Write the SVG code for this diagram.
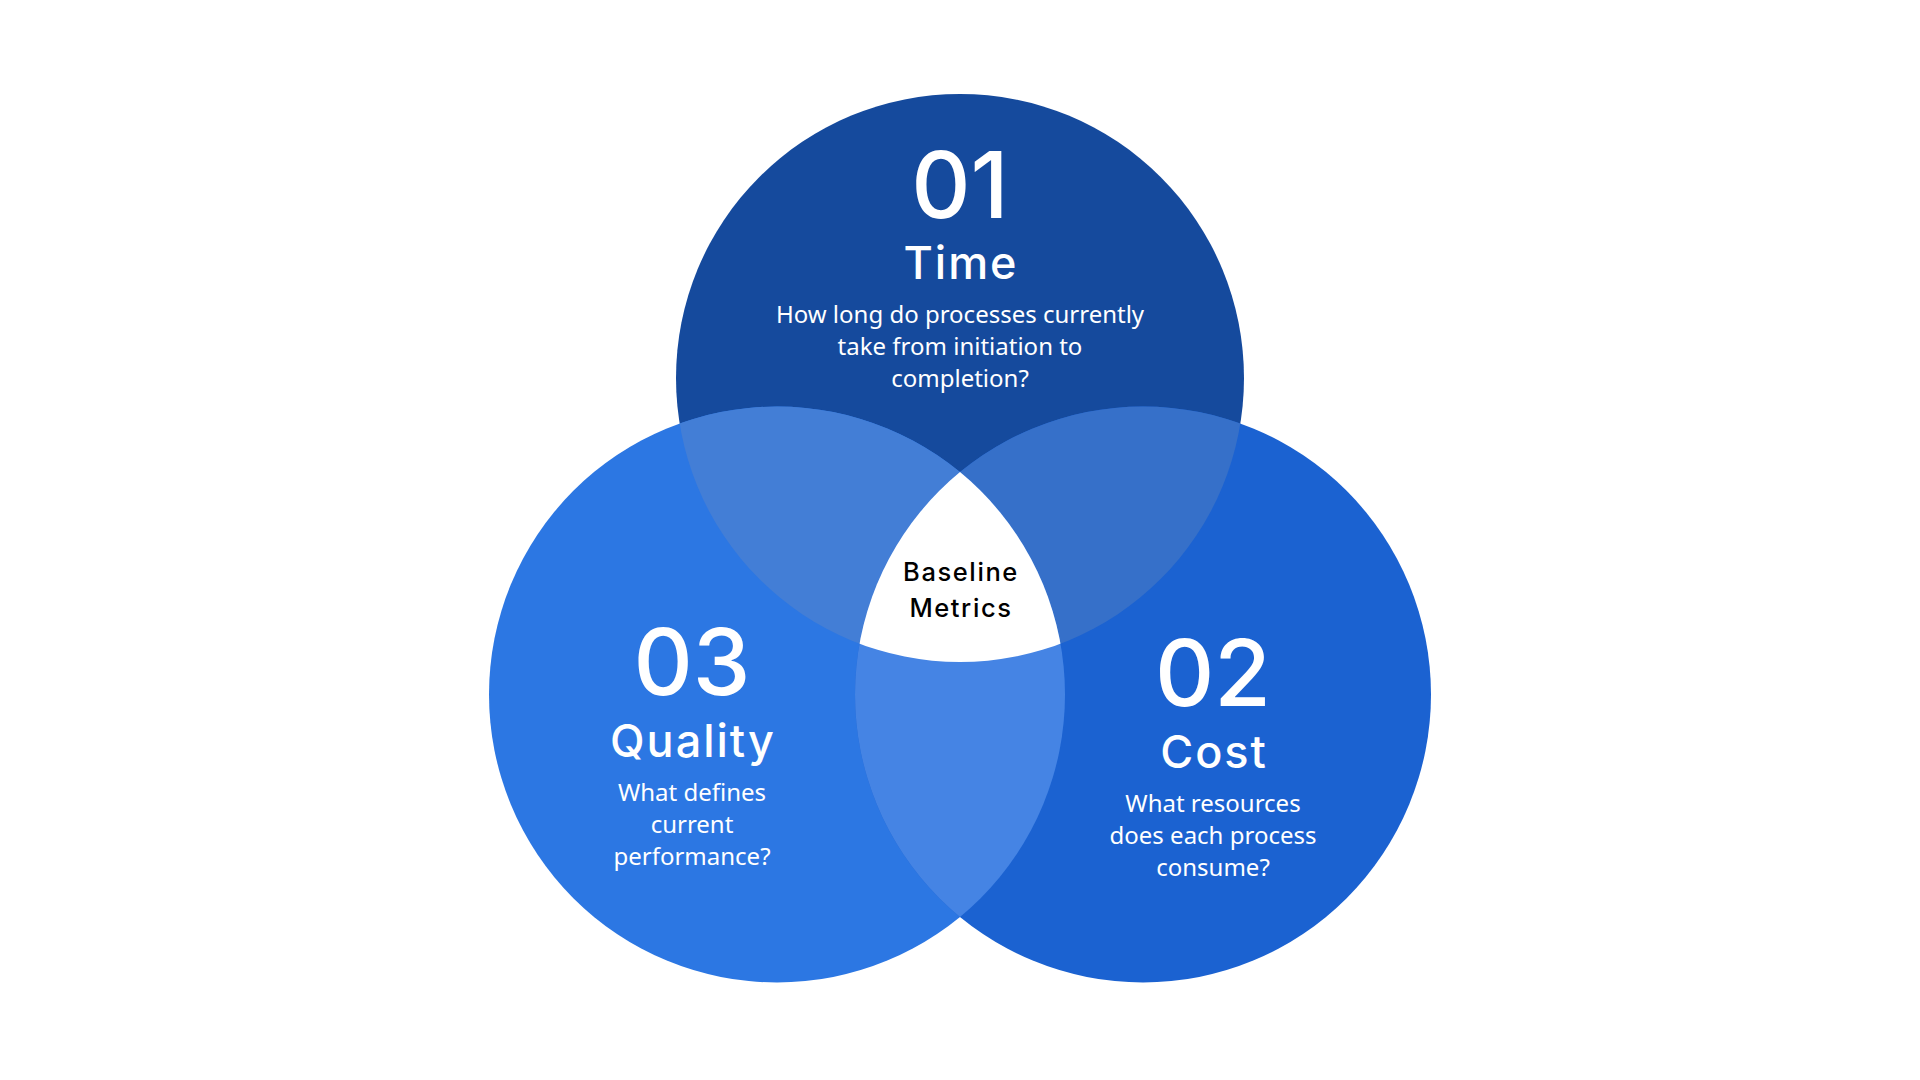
<svg xmlns="http://www.w3.org/2000/svg" width="1920" height="1080" viewBox="0 0 1920 1080">
  <defs>
    <circle id="cTop" cx="960" cy="378" r="284"/>
    <circle id="cLeft" cx="777" cy="694.5" r="288"/>
    <circle id="cRight" cx="1143" cy="694.5" r="288"/>
    <clipPath id="clipTop"><use href="#cTop"/></clipPath>
    <clipPath id="clipLeft"><use href="#cLeft"/></clipPath>
  </defs>
  <style>
    .num { font-family: Inter, "Noto Sans", sans-serif; font-weight: 500; font-size: 92px; fill: #FFFFFF; text-anchor: middle; }
    .title { font-family: Inter, "Noto Sans", sans-serif; font-weight: 500; font-size: 45px; letter-spacing: 2px; fill: #FFFFFF; text-anchor: middle; }
    .desc { font-family: "Noto Sans", "Open Sans", sans-serif; font-weight: 400; font-size: 24px; fill: #FFFFFF; text-anchor: middle; }
    .center { font-family: Inter, "Noto Sans", sans-serif; font-weight: 500; font-size: 25.5px; letter-spacing: 1.6px; fill: #000000; text-anchor: middle; }
  </style>
  <rect width="1920" height="1080" fill="#FFFFFF"/>
  <g id="shapes">
    <use href="#cTop" fill="#154A9D"/>
    <use href="#cLeft" fill="#2C77E3"/>
    <use href="#cRight" fill="#1B62D1"/>
    <use href="#cLeft" fill="#437ED6" clip-path="url(#clipTop)"/>
    <use href="#cRight" fill="#3670C9" clip-path="url(#clipTop)"/>
    <use href="#cRight" fill="#4584E4" clip-path="url(#clipLeft)"/>
    <g clip-path="url(#clipTop)">
      <use href="#cRight" fill="#FFFFFF" clip-path="url(#clipLeft)"/>
    </g>
  </g>
  <g id="connectors"/>
  <g id="node-time">
    <text class="num" x="960" y="218">01</text>
    <text class="title" x="961" y="279">Time</text>
    <text class="desc" x="960" y="323">How long do processes currently</text>
    <text class="desc" x="960" y="355">take from initiation to</text>
    <text class="desc" x="960" y="387">completion?</text>
  </g>
  <g id="node-quality">
    <text class="num" x="692" y="695">03</text>
    <text class="title" x="693" y="757">Quality</text>
    <text class="desc" x="692" y="801">What defines</text>
    <text class="desc" x="692" y="833">current</text>
    <text class="desc" x="692" y="865">performance?</text>
  </g>
  <g id="node-cost">
    <text class="num" x="1213" y="706">02</text>
    <text class="title" x="1214" y="768">Cost</text>
    <text class="desc" x="1213" y="812">What resources</text>
    <text class="desc" x="1213" y="844">does each process</text>
    <text class="desc" x="1213" y="876">consume?</text>
  </g>
  <g id="node-baseline">
    <text class="center" x="961" y="581">Baseline</text>
    <text class="center" x="961" y="617">Metrics</text>
  </g>
</svg>
